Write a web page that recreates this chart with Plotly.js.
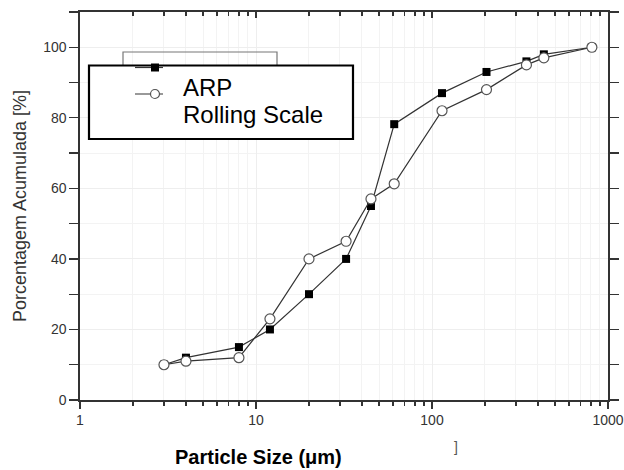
<!DOCTYPE html>
<html>
<head>
<meta charset="utf-8">
<script src="https://cdn.plot.ly/plotly-3.0.1.min.js"></script>
<style>
  html, body { margin: 0; padding: 0; background: #fff; }
  #chart { width: 624px; height: 470px; }
</style>
</head>
<body>
<div id="chart"></div>
<script>
// Cumulative particle size distribution, two samples
const sizeARP = [3, 4, 8, 12, 20, 32.5, 45, 61, 114, 204, 344, 432, 810];
const cumARP  = [10, 12, 15, 20, 30, 40, 55, 78.2, 87, 93, 96, 98, 100];

const sizeRolling = [3, 4, 8, 12, 20, 32.5, 45, 61, 114, 204, 344, 432, 810];
const cumRolling  = [10, 11, 12, 23, 40, 45, 57, 61.3, 82, 88, 95, 97, 100];

const legendLabels = ['ARP', 'Rolling Scale'];
const xTickVals = [1, 10, 100, 1000];
const xTickText = ['1', '10', '100', '1000'];
const yTickVals = [0, 20, 40, 60, 80, 100];

// minor tick positions 2..9 in each decade
const xMinor = [];
[1, 10, 100].forEach(d => { for (let k = 2; k <= 9; k++) xMinor.push(k * d); });

const lineCol = '#333';
const gridCol = '#eeeeee';
const fam = 'Arial, "Liberation Sans", sans-serif';

const traces = [
  {
    x: sizeARP, y: cumARP, name: legendLabels[0], type: 'scatter', mode: 'lines+markers',
    line: { color: lineCol, width: 1.2 },
    marker: { symbol: 'square', size: 8, color: '#000', line: { color: '#000', width: 0 } }
  },
  {
    x: sizeRolling, y: cumRolling, name: legendLabels[1], type: 'scatter', mode: 'lines+markers',
    line: { color: lineCol, width: 1.2 },
    marker: { symbol: 'circle', size: 10, color: '#fff', line: { color: '#555', width: 1.2 } }
  },
  // carrier for the top mirror axis
  { x: [], y: [], xaxis: 'x2', yaxis: 'y', showlegend: false, hoverinfo: 'skip' }
];

// plot-area geometry helpers (paper coordinates from pixel positions)
const L = 80, R = 16, T = 12, B = 70, W = 624, H = 470;
const pw = W - L - R, ph = H - T - B;
const px = v => (v - L) / pw;
const py = v => (H - B - v) / ph;

const shapes = [
  // older key frame, partly covered
  { type: 'rect', xref: 'paper', yref: 'paper', x0: px(123), x1: px(277), y0: py(109), y1: py(52),
    line: { color: '#777', width: 1.2 }, fillcolor: 'rgba(0,0,0,0)', layer: 'above' },
  // key box in front
  { type: 'rect', xref: 'paper', yref: 'paper', x0: px(89), x1: px(353), y0: py(139), y1: py(65.5),
    line: { color: '#000', width: 2.2 }, fillcolor: '#fff', layer: 'above' },
  // key glyph: filled square with line
  { type: 'line', xref: 'paper', yref: 'paper', x0: px(135), x1: px(163), y0: py(67.5), y1: py(67.5),
    line: { color: lineCol, width: 1.2 }, layer: 'above' },
  { type: 'rect', xref: 'paper', yref: 'paper', x0: px(151), x1: px(159), y0: py(71.5), y1: py(63.5),
    line: { color: '#000', width: 0 }, fillcolor: '#000', layer: 'above' },
  // key glyph: open circle with line
  { type: 'line', xref: 'paper', yref: 'paper', x0: px(135), x1: px(163), y0: py(94), y1: py(94),
    line: { color: '#555', width: 1.2 }, layer: 'above' },
  { type: 'circle', xref: 'paper', yref: 'paper', x0: px(150.5), x1: px(159.5), y0: py(98.5), y1: py(89.5),
    line: { color: '#555', width: 1.2 }, fillcolor: '#fff', layer: 'above' }
];

const annotations = [
  { xref: 'paper', yref: 'paper', x: px(181), y: py(88), xanchor: 'left', yanchor: 'middle',
    text: legendLabels[0], showarrow: false, font: { family: fam, size: 24, color: '#000' } },
  { xref: 'paper', yref: 'paper', x: px(181), y: py(115), xanchor: 'left', yanchor: 'middle',
    text: legendLabels[1], showarrow: false, font: { family: fam, size: 24, color: '#000' } },
  // x-axis title
  { xref: 'paper', yref: 'paper', x: px(258), y: py(457), xanchor: 'center', yanchor: 'middle',
    text: '<b>Particle Size (μm)</b>', showarrow: false, font: { family: fam, size: 20, color: '#000' } },
  { xref: 'paper', yref: 'paper', x: px(456), y: py(447), xanchor: 'center', yanchor: 'middle',
    text: ']', showarrow: false, font: { family: fam, size: 14, color: '#555' } }
];

const axisFont = { family: fam, size: 14, color: '#333' };

const layout = {
  width: W, height: H,
  margin: { l: L, r: R, t: T, b: B, pad: 0 },
  paper_bgcolor: '#fff', plot_bgcolor: '#fff',
  showlegend: false,
  xaxis: {
    type: 'log', range: [0, 3],
    tickvals: xTickVals, ticktext: xTickText,
    ticks: 'outside', ticklen: 7, tickwidth: 1.3, tickcolor: lineCol,
    showline: true, linecolor: lineCol, linewidth: 1.6,
    showgrid: true, gridcolor: gridCol, gridwidth: 1,
    zeroline: false, tickfont: axisFont,
    minor: { tickvals: xMinor, ticks: 'outside', ticklen: 4, tickwidth: 1.2, tickcolor: lineCol,
             showgrid: true, gridcolor: '#f3f3f3', gridwidth: 1 }
  },
  xaxis2: {
    type: 'log', range: [0, 3], overlaying: 'x', side: 'top', anchor: 'y',
    tickvals: xTickVals, showticklabels: false,
    ticks: 'inside', ticklen: 6, tickwidth: 1.3, tickcolor: lineCol,
    showline: true, linecolor: lineCol, linewidth: 1.6,
    showgrid: false, zeroline: false,
    minor: { tickvals: xMinor, ticks: 'inside', ticklen: 4, tickwidth: 1.2, tickcolor: lineCol, showgrid: false }
  },
  yaxis: {
    range: [0, 110],
    tickvals: yTickVals,
    ticks: 'outside', ticklen: 9, tickwidth: 1.3, tickcolor: lineCol,
    showline: true, linecolor: lineCol, linewidth: 1.6, mirror: 'allticks',
    showgrid: true, gridcolor: gridCol, gridwidth: 1,
    zeroline: false, tickfont: axisFont,
    minor: { dtick: 10, ticks: 'outside', ticklen: 5, tickwidth: 1.2, tickcolor: lineCol,
             showgrid: true, gridcolor: '#f3f3f3', gridwidth: 1 },
    title: { text: 'Porcentagem Acumulada [%]', standoff: 12,
             font: { family: fam, size: 18, color: '#333' } }
  },
  shapes: shapes,
  annotations: annotations
};

Plotly.newPlot('chart', traces, layout, { staticPlot: true, displayModeBar: false });
</script>
</body>
</html>
